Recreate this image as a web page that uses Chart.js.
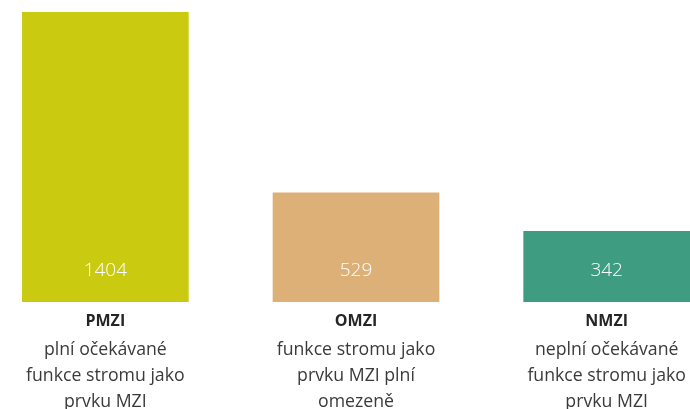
<!DOCTYPE html>
<html>
<head>
<meta charset="utf-8">
<script src="https://cdn.jsdelivr.net/npm/chart.js@4/dist/chart.umd.min.js"></script>
<style>
    html, body {
        margin: 0;
        padding: 0;
        background: #ffffff;
        overflow: hidden;
        width: 690px;
        height: 409px;
    }
    #wrap {
        position: absolute;
        left: -20px;
        top: 0;
        width: 752px;
        height: 409px;
    }
</style>
</head>
<body>
<div id="wrap"><canvas id="mziChart"></canvas></div>
<script>
// kategorie a hodnoty
const kody = ["PMZI", "OMZI", "NMZI"];
const popisy = [
    ["plní očekávané", "funkce stromu jako", "prvku MZI"],
    ["funkce stromu jako", "prvku MZI plní", "omezeně"],
    ["neplní očekávané", "funkce stromu jako", "prvku MZI"]
];
const pocty = [1404, 529, 342];
const barvy = ["#CACA11", "#DDB077", "#3E9C80"];

const hodnotyVeSloupci = {
    id: "hodnotyVeSloupci",
    afterDatasetsDraw(chart) {
        const ctx = chart.ctx;
        const meta = chart.getDatasetMeta(0);
        ctx.save();
        ctx.font = "300 19px 'Open Sans'";
        ctx.fillStyle = "#ffffff";
        ctx.textAlign = "center";
        ctx.textBaseline = "middle";
        meta.data.forEach((bar, i) => {
            ctx.fillText(String(pocty[i]), bar.x, bar.base - 31);
        });
        ctx.restore();
    }
};

const ctx = document.getElementById("mziChart").getContext("2d");

new Chart(ctx, {
    type: "bar",

    data: {
        labels: kody,
        datasets: [{
            data: pocty,
            backgroundColor: barvy,
            borderWidth: 0,
            barThickness: 166,
            xAxisID: "x"
        }]
    },

    options: {
        responsive: true,
        maintainAspectRatio: false,
        animation: false,
        layout: {
            padding: { top: 12, left: 0, right: 0, bottom: 0 }
        },

        plugins: {
            legend: { display: false },
            tooltip: { enabled: false }
        },

        scales: {
            x: {
                type: "category",
                offset: true,
                weight: 0,
                grid: { display: false, drawTicks: false, offset: true },
                border: { display: false },
                ticks: {
                    padding: 10,
                    color: "#252525",
                    font: { family: "'Open Sans'", size: 16, weight: "bold" }
                },
                afterFit(scale) { scale.height = 30; }
            },

            x2: {
                type: "category",
                position: "bottom",
                labels: popisy,
                offset: true,
                weight: 1,
                grid: { display: false, drawTicks: false, offset: true },
                border: { display: false },
                ticks: {
                    padding: 5,
                    color: "#3a3a3a",
                    font: { family: "'Open Sans'", size: 17.7, lineHeight: 1.47 }
                },
                afterFit(scale) { scale.height = 77; }
            },

            y: {
                display: false,
                beginAtZero: true,
                min: 0,
                max: Math.max(...pocty)
            }
        }
    },

    plugins: [hodnotyVeSloupci]
});
</script>
</body>
</html>
